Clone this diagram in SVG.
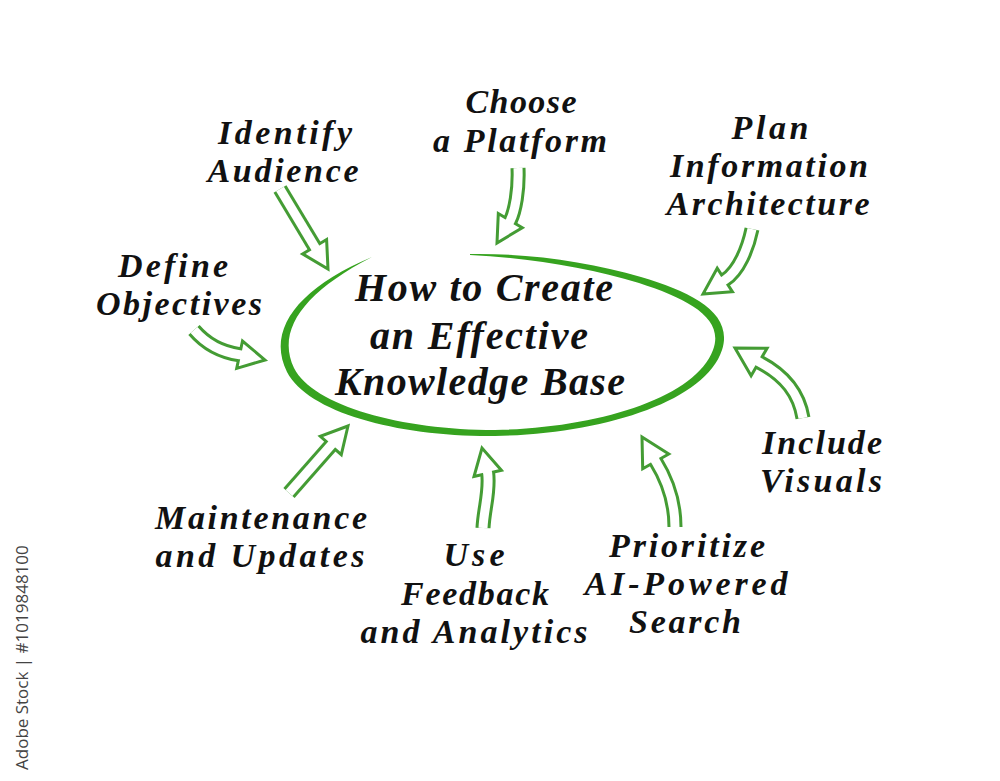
<svg xmlns="http://www.w3.org/2000/svg" width="1000" height="781" viewBox="0 0 1000 781">
<style>
.lbl{font-family:"Liberation Serif","Times New Roman",serif;font-style:italic;font-weight:bold;font-size:34px;fill:#111;text-anchor:middle}
.ttl{font-size:40px}
.ao{fill:none;stroke:#449c34;stroke-width:15}
.ai{fill:none;stroke:#fff;stroke-width:9}
.ah{fill:#fff;stroke:#449c34;stroke-width:3;stroke-linejoin:miter}
.wm{font-family:"Open Sans","Noto Sans",sans-serif;font-size:17px;fill:#444}
</style>
<rect width="1000" height="781" fill="#fff"/>
<g id="center">
<path d="M372,257 C298,288 266,330 287,372 C308,413 400,437 495,436 C602,434 705,402 722,350 C734,313 692,292 641,277 C590,262 530,253 470,254 L470,255 C530,258 590,268 639,283 C688,299 725,318 713,350 C695,398 598,428 495,430 C402,430 313,406 294,368 C276,330 304,292 372,257 Z" fill="#36a31f"/>
<text class="lbl ttl" x="484" y="301" textLength="258">How to Create</text>
<text class="lbl ttl" x="479" y="349" textLength="218">an Effective</text>
<text class="lbl ttl" x="480" y="395" textLength="290">Knowledge Base</text>
</g>
<g id="connectors">
<g id="a-audience"><polygon class="ah" points="302.6,253.9 328,269 326.6,239.5"/><path class="ao" d="M280,189 L314.6,246.7"/><path class="ai" d="M280,189 L316.7,250.1"/></g>
<g id="a-platform"><polygon class="ah" points="498.3,213.5 497,243 522.3,227.7"/><path class="ao" d="M518,168 C519,190 515,211 510.3,220.6"/><path class="ai" d="M518,168 C519,190 515,211 510.3,220.6 L508.3,224"/></g>
<g id="a-plan"><polygon class="ah" points="717.2,268.2 703,294 732.4,291.8"/><path class="ao" d="M752,229 C748,248 739,271 724.8,280"/><path class="ai" d="M752,229 C748,248 739,271 724.8,280 L721.4,282.2"/></g>
<g id="a-objectives"><polygon class="ah" points="236.7,368.4 265,360 242.5,341"/><path class="ao" d="M194,330 C206,344 220,352 239.6,354.7"/><path class="ai" d="M194,330 C206,344 220,352 239.6,354.7 L243.5,355.5"/></g>
<g id="a-visuals"><polygon class="ah" points="767.1,348.2 735,348 751.1,375.8"/><path class="ao" d="M803,418 C799,394 786,376 759.1,362"/><path class="ai" d="M803,418 C799,394 786,376 759.1,362 L755.7,360"/></g>
<g id="a-search"><polygon class="ah" points="668.8,454 642,437 642.7,468.7"/><path class="ao" d="M675,527 C675,500 666,478 655.7,461.4"/><path class="ai" d="M675,527 C675,500 666,478 655.7,461.4 L653.7,458"/></g>
<g id="a-feedback"><polygon class="ah" points="501.4,470.3 482,448 474,476.5"/><path class="ao" d="M483,528 C484,508 490,492 487.7,473.4"/><path class="ai" d="M483,528 C484,508 490,492 487.7,473.4 L486.8,469.5"/></g>
<g id="a-maintenance"><polygon class="ah" points="341.3,454.7 348,426 320.3,436.3"/><path class="ao" d="M289,493 L330.8,445.5"/><path class="ai" d="M289,493 L333.4,442.5"/></g>
</g>
<g id="n-audience"><text class="lbl" x="285" y="144" textLength="134">Identify</text><text class="lbl" x="283" y="182" textLength="151">Audience</text></g>
<g id="n-platform"><text class="lbl" x="521" y="113" textLength="111">Choose</text><text class="lbl" x="520" y="152" textLength="174">a Platform</text></g>
<g id="n-plan"><text class="lbl" x="770" y="139" textLength="77">Plan</text><text class="lbl" x="769" y="177" textLength="198">Information</text><text class="lbl" x="768" y="215" textLength="203">Architecture</text></g>
<g id="n-objectives"><text class="lbl" x="173" y="277" textLength="110">Define</text><text class="lbl" x="179" y="315" textLength="166">Objectives</text></g>
<g id="n-visuals"><text class="lbl" x="822" y="454" textLength="120">Include</text><text class="lbl" x="821" y="492" textLength="122">Visuals</text></g>
<g id="n-maintenance"><text class="lbl" x="261" y="529" textLength="212">Maintenance</text><text class="lbl" x="260" y="567" textLength="209">and Updates</text></g>
<g id="n-feedback"><text class="lbl" x="474" y="566" textLength="61">Use</text><text class="lbl" x="475" y="605" textLength="148">Feedback</text><text class="lbl" x="474" y="643" textLength="227">and Analytics</text></g>
<g id="n-search"><text class="lbl" x="687" y="557" textLength="156">Prioritize</text><text class="lbl" x="686" y="595" textLength="203">AI-Powered</text><text class="lbl" x="685" y="633" textLength="112">Search</text></g>
<text class="wm" transform="translate(28,770) rotate(-90)">Adobe Stock | #1019848100</text>
</svg>
